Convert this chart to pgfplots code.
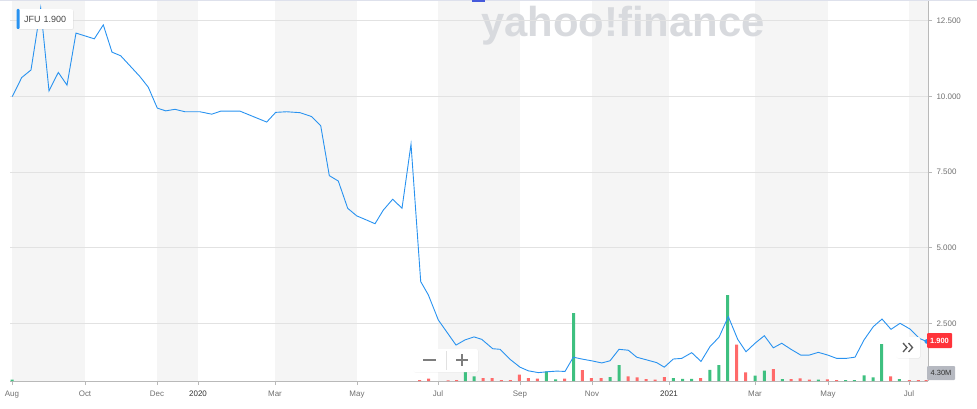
\documentclass[border=0pt]{standalone}
\usepackage{fontspec}
\setmainfont{Liberation Sans}
\usepackage{pgfplots}
\pgfplotsset{compat=1.18}
\usepackage{pgfplotstable}
\usetikzlibrary{shadows}

\definecolor{band}{RGB}{245,245,245}
\definecolor{gridc}{RGB}{226,226,226}
\definecolor{axisc}{RGB}{185,185,185}
\definecolor{linec}{RGB}{40,146,240}
\definecolor{volg}{RGB}{62,192,128}
\definecolor{volr}{RGB}{255,106,106}
\definecolor{labc}{RGB}{112,112,112}
\definecolor{wm}{RGB}{216,218,222}
\definecolor{topc}{RGB}{222,225,236}
\definecolor{tabc}{RGB}{70,90,220}
\definecolor{redbox}{RGB}{255,51,58}
\definecolor{graybox}{RGB}{182,185,193}
\definecolor{jfutext}{RGB}{70,70,70}
\definecolor{voltext}{RGB}{50,50,50}
\definecolor{chev}{RGB}{90,90,90}
\definecolor{sepc}{RGB}{225,225,225}
\definecolor{zoomc}{RGB}{125,125,125}

% price line: x = horizontal position along the time axis, y = price
\pgfplotstableread{
x y
12.3 9.99
21.7 10.62
31 10.87
40.7 12.92
49 10.18
58.3 10.79
67 10.37
76 12.09
94.3 11.90
103.3 12.36
112 11.46
120.7 11.34
140 10.65
148.3 10.30
157.3 9.61
165.7 9.52
175 9.57
185 9.49
200 9.49
211.7 9.41
220.7 9.51
240 9.51
260 9.24
266.7 9.15
275.7 9.47
286.7 9.49
300 9.46
311.7 9.33
320.7 9.03
329.3 7.38
338.3 7.20
347.7 6.30
356.7 6.05
366.7 5.91
375 5.79
383.3 6.24
392.7 6.60
402 6.30
411 8.42
420.7 3.88
428.3 3.44
438.3 2.61
456 1.78
465 1.95
474 2.05
481.7 1.97
492.7 1.66
500 1.64
510 1.31
520 1.05
528.3 0.93
538.3 0.87
548.3 0.90
556.7 0.92
565 0.91
573.3 1.38
581.7 1.32
591.7 1.26
601.7 1.19
610 1.26
619 1.64
628.3 1.61
636.7 1.38
646.7 1.29
656.7 1.20
664.3 1.05
673.3 1.32
681.7 1.34
691.7 1.53
701 1.24
710 1.73
719 2.04
728.3 2.72
737.7 1.97
746 1.56
755 1.84
764.3 2.09
773.3 1.69
781.7 1.84
791 1.64
800.7 1.45
809.3 1.45
818.3 1.54
827.7 1.45
836.7 1.34
846 1.34
855 1.38
864 1.95
873.3 2.39
882 2.64
891 2.30
900 2.50
910 2.31
919.3 2.00
926.7 1.90
}\price

% volume (relative bar heights), down days
\pgfplotstableread{
x h
419.7 1
428.7 2.3
448 0.6
456.7 1
483 3
492 3
501.3 1
510.3 1
519.3 6.3
528.3 3
537.3 2.3
564.7 2.3
582.3 11
591.3 3
601 3
628 4.7
637 3.7
646 2
655 1.3
664.3 4
700.5 3
736.7 36.5
745.7 8.7
773.3 12
791 2
800 2.7
809.3 1.3
827.3 1.7
836.7 0.8
890.7 4.7
909.3 1
918.3 1
926 1
}\volred

% volume (relative bar heights), up days
\pgfplotstableread{
x h
12 1.5
465.3 10
474 4.7
546.3 9.7
555.7 1.7
573.5 68
610 4
619 16
673.3 3
682.5 2.2
691.5 2.2
709.8 11.2
718.8 16
727.7 86
755 5.3
764.3 10.3
782.3 2
818.3 1.3
845.7 0.8
854.3 0.8
864 5.7
873 3.7
881.7 37
899.3 2
}\volgreen

\pgfplotsset{
  base/.style={
    at={(10bp,27bp)}, anchor=south west,
    scale only axis, width=918bp, height=380bp,
    xmin=10, xmax=928,
  },
  pricey/.style={ymin=0.593, ymax=13.15},
}

\begin{document}
\begin{tikzpicture}[x=1bp,y=1bp]
\useasboundingbox (0,0) rectangle (977,408);

% month bands
\begin{axis}[base, pricey, hide axis]
\fill[band] (axis cs:12,0.593) rectangle (axis cs:85,13.15);
\fill[band] (axis cs:157,0.593) rectangle (axis cs:198,13.15);
\fill[band] (axis cs:275,0.593) rectangle (axis cs:357,13.15);
\fill[band] (axis cs:438,0.593) rectangle (axis cs:520,13.15);
\fill[band] (axis cs:592,0.593) rectangle (axis cs:669,13.15);
\fill[band] (axis cs:755,0.593) rectangle (axis cs:828,13.15);
\fill[band] (axis cs:909,0.593) rectangle (axis cs:928,13.15);
\end{axis}

% watermark
\node[anchor=base west, inner sep=0pt, text=wm,
      font=\fontsize{42}{42}\selectfont\bfseries] at (481,372) {yahoo!finance};

% grid, ticks and labels
\begin{axis}[base, pricey,
  axis x line*=bottom, axis y line*=right,
  axis line style={axisc, line width=0.8bp},
  xtick={12,85,157,198,275,357,438,520,592,669,755,828,909},
  xticklabels={Aug,Oct,Dec,\textcolor{black!80}{2020},Mar,May,Jul,Sep,Nov,\textcolor{black!80}{2021},Mar,May,Jul},
  ytick={2.5,5,7.5,10,12.5},
  /pgf/number format/fixed,
  /pgf/number format/fixed zerofill,
  /pgf/number format/precision=3,
  /pgf/number format/assume math mode=true,
  ymajorgrids, grid style={gridc, line width=0.8bp},
  tick style={axisc, line width=0.8bp}, major tick length=4bp,
  tick align=outside,
  ticklabel style={font=\fontsize{8}{9}\selectfont, text=labc},
  xticklabel style={yshift=-2bp},
  yticklabel style={xshift=1bp},
]
\addplot[draw=none] coordinates {(12,5)};
\end{axis}

% volume bars
\begin{axis}[base, hide axis, ymin=0, ymax=380]
\addplot[ybar, bar width=3bp, bar shift=0pt, fill=volr, draw=none] table[x=x,y=h]{\volred};
\addplot[ybar, bar width=3bp, bar shift=0pt, fill=volg, draw=none] table[x=x,y=h]{\volgreen};
\end{axis}

% price line
\begin{axis}[base, pricey, hide axis, clip=false]
\addplot[linec, line width=0.9bp] table[x=x,y=y]{\price};
\addplot[only marks, mark=*, mark size=2bp, linec] coordinates {(926.7,1.90)};
\end{axis}

% top border and small tab mark
\fill[topc] (0,406.6) rectangle (977,408);
\fill[tabc] (472,406) rectangle (485,408);

% JFU box
\node[fill=white, rounded corners=2bp, anchor=north west, minimum width=56bp, minimum height=20bp,
      drop shadow={opacity=0.12, shadow xshift=0.6bp, shadow yshift=-0.6bp}] at (17,399) {};
\fill[linec, rounded corners=1bp] (16.7,399) rectangle (19.5,379);
\node[anchor=west, inner sep=0pt, text=jfutext, font=\fontsize{9}{10}\selectfont] at (24,389) {JFU\hspace{3bp}1.900};

% current price label
\fill[redbox, rounded corners=1bp] (927,75) rectangle (952,60);
\node[text=white, inner sep=0pt, font=\fontsize{7.5}{8}\selectfont\bfseries] at (939.5,67.5) {1.900};

% current volume label
\fill[graybox, rounded corners=1bp] (927,42) rectangle (955,28);
\node[text=voltext, inner sep=0pt, font=\fontsize{7.5}{8}\selectfont] at (941,35) {4.30M};

% expand button
\node[fill=white, rounded corners=2bp, minimum width=24bp, minimum height=21bp,
      drop shadow={opacity=0.12, shadow xshift=0.5bp, shadow yshift=-0.5bp}] at (908,60.5) {};
\draw[chev, line width=1.3bp] (903,65) -- (907,60.5) -- (903,56);
\draw[chev, line width=1.3bp] (908.5,65) -- (912.5,60.5) -- (908.5,56);

% zoom buttons
\node[fill=white, rounded corners=2bp, minimum width=65bp, minimum height=23bp,
      drop shadow={opacity=0.10, shadow xshift=0.5bp, shadow yshift=-0.5bp}] at (445.5,47.5) {};
\draw[sepc, line width=0.8bp] (446,57) -- (446,38);
\draw[zoomc, line width=2.2bp] (423,48) -- (436,48);
\draw[zoomc, line width=2.2bp] (456,48) -- (468,48);
\draw[zoomc, line width=2.2bp] (462,42.3) -- (462,54);
\end{tikzpicture}
\end{document}
